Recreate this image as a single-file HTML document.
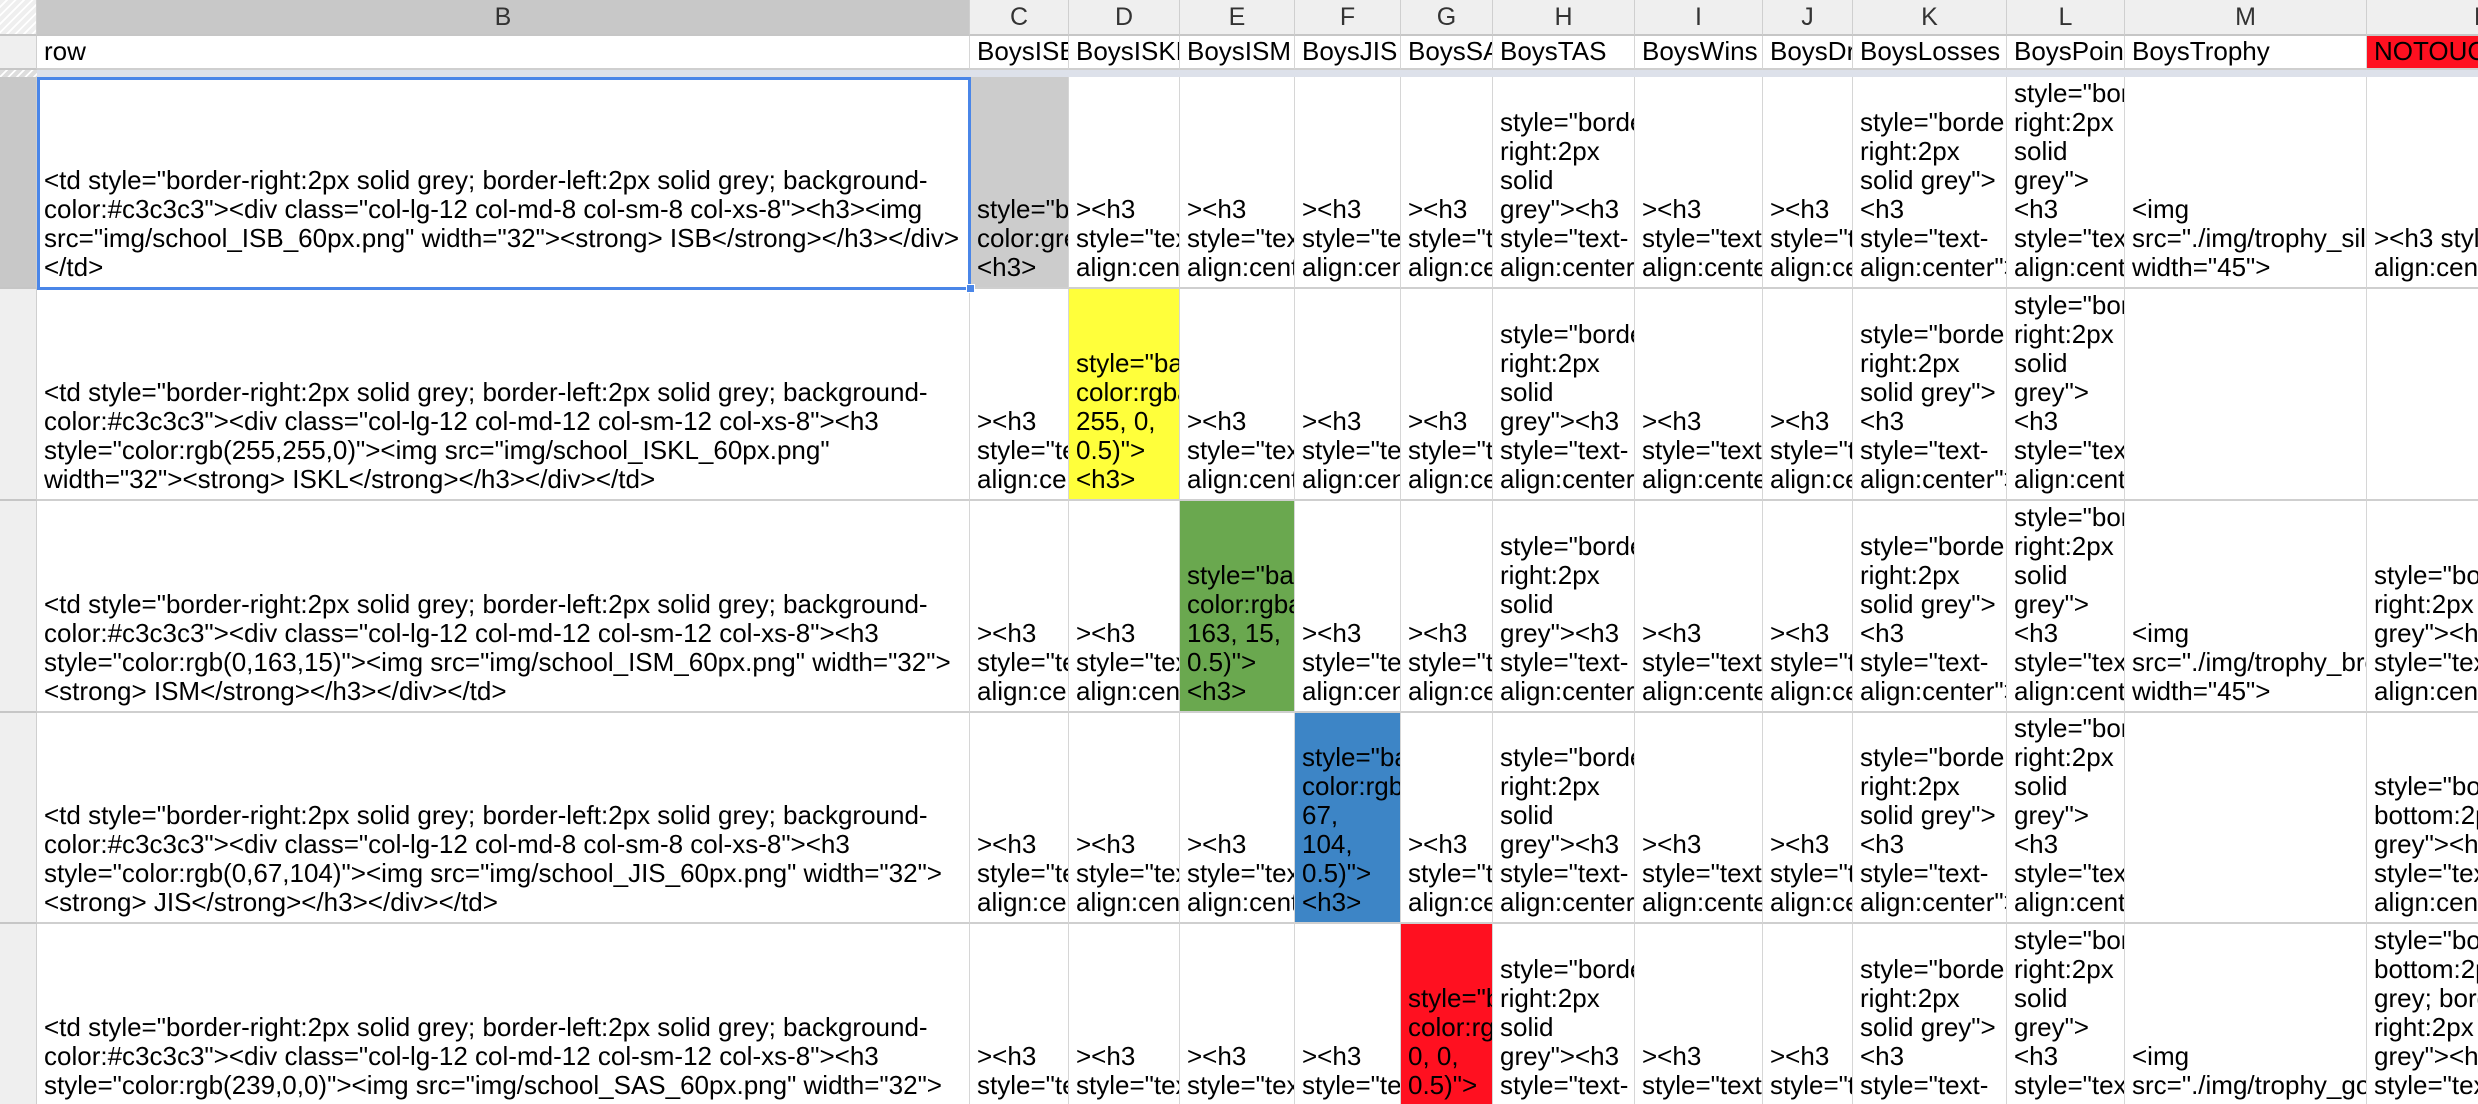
<!DOCTYPE html>
<html><head><meta charset="utf-8"><style>
body{margin:0;width:2478px;height:1104px;overflow:hidden;background:#fff;font-family:"Liberation Sans",Arial,sans-serif;position:relative}
#root{position:absolute;left:0;top:0;width:2478px;height:1104px;overflow:hidden}
.c{position:absolute;box-sizing:border-box;overflow:hidden;display:flex;flex-direction:column;justify-content:flex-end;padding:0 0 5px 7px;white-space:nowrap;font-size:26px;line-height:29px;color:#000;border-right:1px solid #d6d6d6;border-bottom:2px solid #cfcfcf}
.h{position:absolute;box-sizing:border-box;background:#efefef;border-right:1px solid #cfcfcf;border-bottom:2px solid #c6c6c6;text-align:center;font-size:25px;line-height:34px;color:#333}
.p{position:absolute;box-sizing:border-box}
</style></head><body>
<div id="root"></div>
<script>
const colL=[37,970,1069,1180,1295,1401,1493,1635,1763,1853,2007,2125,2367,2600];
const letters=['B','C','D','E','F','G','H','I','J','K','L','M','N'];
const heads=['row','BoysISB','BoysISKL','BoysISM','BoysJIS','BoysSAS','BoysTAS','BoysWins','BoysDraws','BoysLosses','BoysPoints','BoysTrophy','NOTOUCH'];
const rowT=[77,289,501,713,924,1136];
const H3=['><h3','style="text-','align:center">'];
const HB=['style="border-','right:2px','solid','grey"><h3','style="text-','align:center">'];
const KB=['style="border-','right:2px','solid grey">','<h3','style="text-','align:center">'];
const LB=['style="border-','right:2px','solid','grey">','<h3','style="text-','align:center">'];
const pre='<td style="border-right:2px solid grey; border-left:2px solid grey; background-';
const rows=[
 [[pre,'color:#c3c3c3"><div class="col-lg-12 col-md-8 col-sm-8 col-xs-8"><h3><img','src="img/school_ISB_60px.png" width="32"><strong> ISB</strong></h3></div>','</td>'],
  ['style="background-','color:grey">','<h3>'],H3,H3,H3,H3,HB,H3,H3,KB,LB,['<img','src="./img/trophy_silver.png"','width="45">'],['><h3 style="text-','align:center">']],
 [[pre,'color:#c3c3c3"><div class="col-lg-12 col-md-12 col-sm-12 col-xs-8"><h3','style="color:rgb(255,255,0)"><img src="img/school_ISKL_60px.png"','width="32"><strong> ISKL</strong></h3></div></td>'],
  H3,['style="background-','color:rgba(255,','255, 0,','0.5)">','<h3>'],H3,H3,H3,HB,H3,H3,KB,LB,[],[]],
 [[pre,'color:#c3c3c3"><div class="col-lg-12 col-md-12 col-sm-12 col-xs-8"><h3','style="color:rgb(0,163,15)"><img src="img/school_ISM_60px.png" width="32">','<strong> ISM</strong></h3></div></td>'],
  H3,H3,['style="background-','color:rgba(0,','163, 15,','0.5)">','<h3>'],H3,H3,HB,H3,H3,KB,LB,['<img','src="./img/trophy_bronze.png"','width="45">'],['style="border-','right:2px solid','grey"><h3','style="text-','align:center">']],
 [[pre,'color:#c3c3c3"><div class="col-lg-12 col-md-8 col-sm-8 col-xs-8"><h3','style="color:rgb(0,67,104)"><img src="img/school_JIS_60px.png" width="32">','<strong> JIS</strong></h3></div></td>'],
  H3,H3,H3,['style="background-','color:rgba(0,','67,','104,','0.5)">','<h3>'],H3,HB,H3,H3,KB,LB,[],['style="border-','bottom:2px solid','grey"><h3','style="text-','align:center">']],
 [[pre,'color:#c3c3c3"><div class="col-lg-12 col-md-12 col-sm-12 col-xs-8"><h3','style="color:rgb(239,0,0)"><img src="img/school_SAS_60px.png" width="32">','<strong> SAS</strong></h3></div></td>'],
  H3,H3,H3,H3,['style="background-','color:rgba(239,','0, 0,','0.5)">','<h3>'],HB,H3,H3,KB,LB,['<img','src="./img/trophy_gold.png"','width="45">'],['style="border-','bottom:2px','grey; border-','right:2px','grey"><h3','style="text-','align:center">']]
];
const fills={'0,1':'#cccccc','1,2':'#ffff3b','2,3':'#6aa84f','3,4':'#3d85c6','4,5':'#ff1020'};
const root=document.getElementById('root');
function box(cls,l,t,w,h){const d=document.createElement('div');d.className=cls;d.style.left=l+'px';d.style.top=t+'px';d.style.width=w+'px';d.style.height=h+'px';root.appendChild(d);return d;}
let d=box('h',0,0,37,36);d.style.background='repeating-linear-gradient(135deg,#efefef 0 4px,#fff 4px 6px)';


d=box('h',0,36,37,34);


d=box('h',0,70,37,7);d.style.background='repeating-linear-gradient(135deg,#ddd 0 4px,#fff 4px 6px)';d.style.border='none';


d=box('h',37,70,2441,7);d.style.background='#dde1ea';d.style.border='none';


for(let r=0;r<5;r++){d=box('h',0,rowT[r],37,rowT[r+1]-rowT[r]);if(r==0)d.style.background='#c8c8c8';

}
for(let i=0;i<13;i++){
 const l=colL[i],w=colL[i+1]-l;
 d=box('h',l,0,w,36);d.textContent=letters[i];if(i==0)d.style.background='#c8c8c8';
 
 
 d=box('c',l,36,w,34);d.style.paddingBottom='2px';d.textContent=heads[i];if(i==12)d.style.background='#ff1020';
 
 
 for(let r=0;r<5;r++){
  d=box('c',l,rowT[r],w,rowT[r+1]-rowT[r]);
  const f=fills[r+','+i];if(f)d.style.background=f;
  for(const s of rows[r][i]){const ln=document.createElement('div');ln.textContent=s;d.appendChild(ln);}
  
  
 }
}
d=box('p',37,77,934,213);d.style.border='3px solid #4a86e8';


d=box('p',966,284,9,9);d.style.background='#4a86e8';d.style.border='1px solid #fff';


</script>
</body></html>
